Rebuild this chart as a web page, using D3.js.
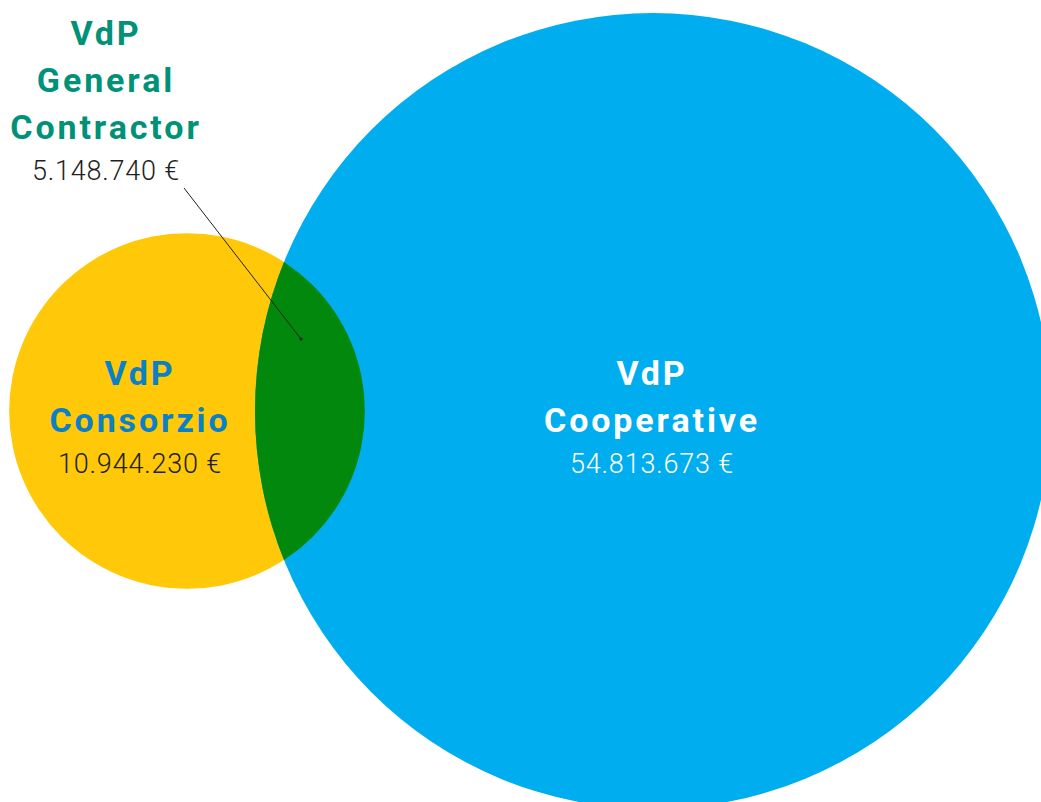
<!DOCTYPE html>
<html>
<head>
<meta charset="utf-8">
<script src="https://cdn.jsdelivr.net/npm/d3@7"></script>
<style>
  html, body { margin: 0; padding: 0; background: #fff; }
</style>
</head>
<body>
<div id="chart"></div>
<script>
const sets = ["VdP Consorzio", "VdP Cooperative"];
const setValues = [10944230, 54813673];
const overlapName = "VdP General Contractor";
const overlapValue = 5148740;

const width = 1041, height = 802;
const fmt = v => v.toLocaleString("de-DE") + " €";

const r = d3.scaleSqrt().domain([0, d3.max(setValues)]).range([0, 398]);
const x = d3.scalePoint().domain(sets).range([187, 653]);
const cy = 411;

const circles = sets.map((s, i) => ({ name: s, value: setValues[i], cx: x(s), r: r(setValues[i]) }));

const svg = d3.select("#chart")
  .append("svg")
  .attr("width", width)
  .attr("height", height)
  .attr("viewBox", `0 0 ${width} ${height}`);

svg.append("defs").append("clipPath")
  .attr("id", "clipBig")
  .append("circle")
  .attr("cx", circles[1].cx)
  .attr("cy", cy)
  .attr("r", circles[1].r);

const fills = ["#ffc808", "#00adee"];

svg.append("g")
  .selectAll("circle")
  .data(circles)
  .join("circle")
  .attr("cx", d => d.cx)
  .attr("cy", cy)
  .attr("r", d => d.r)
  .attr("fill", (d, i) => fills[i]);

// lente di intersezione
svg.append("circle")
  .attr("cx", circles[0].cx)
  .attr("cy", cy)
  .attr("r", circles[0].r)
  .attr("clip-path", "url(#clipBig)")
  .attr("fill", "#02880c");

// linea guida
svg.append("line")
  .attr("x1", 184).attr("y1", 188)
  .attr("x2", 301).attr("y2", 339)
  .attr("stroke", "#222")
  .attr("stroke-width", 1);
svg.append("circle")
  .attr("cx", 301).attr("cy", 339).attr("r", 1.6)
  .attr("fill", "#222");

function label(cx, lines, value, color, valueColor, y0) {
  const g = svg.append("g")
    .attr("text-anchor", "middle")
    .attr("font-family", "Roboto, sans-serif");
  lines.forEach((t, i) => {
    g.append("text")
      .attr("x", cx)
      .attr("y", y0 + i * 47)
      .attr("font-size", 34)
      .attr("font-weight", 700)
      .attr("letter-spacing", 2.9)
      .attr("fill", color)
      .text(t);
  });
  g.append("text")
    .attr("x", cx)
    .attr("y", y0 + (lines.length - 1) * 47 + 41)
    .attr("font-size", 27)
    .attr("font-weight", 300)
    .attr("letter-spacing", 0.8)
    .attr("fill", valueColor)
    .text(fmt(value));
}

label(140, ["VdP", "Consorzio"], setValues[0], "#0a80c6", "#231f20", 385);
label(652, ["VdP", "Cooperative"], setValues[1], "#ffffff", "#ffffff", 385);
label(106, ["VdP", "General", "Contractor"], overlapValue, "#009178", "#231f20", 45);
</script>
</body>
</html>
